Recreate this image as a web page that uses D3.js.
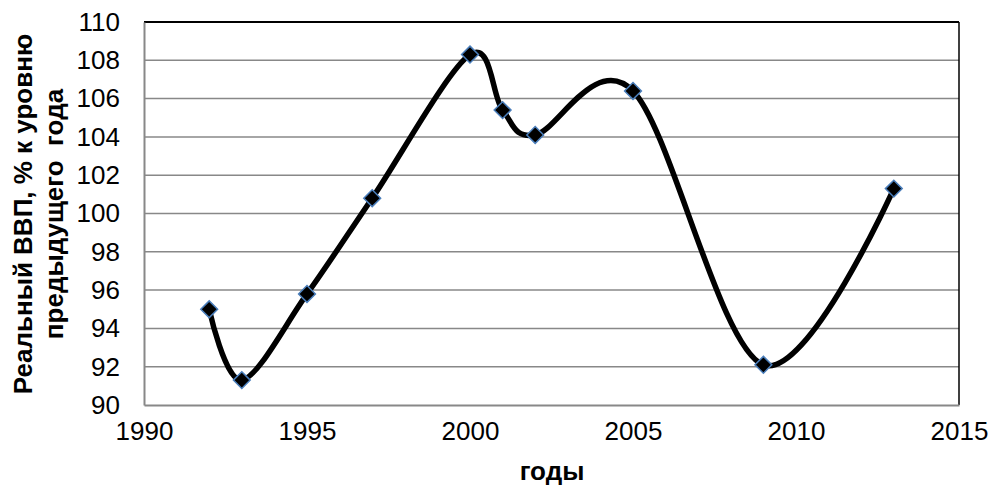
<!DOCTYPE html>
<html>
<head>
<meta charset="utf-8">
<script src="https://cdn.jsdelivr.net/npm/d3@7"></script>
<style>
  body { margin: 0; background: #fff; }
  text { font-family: "Liberation Sans", Arial, sans-serif; }
</style>
</head>
<body>
<script>
// data
var years = [1992, 1993, 1995, 1997, 2000, 2001, 2002, 2005, 2009, 2013];
var gdp = [95.0, 91.3, 95.8, 100.8, 108.3, 105.4, 104.1, 106.4, 92.1, 101.3];
var xTicks = [1990, 1995, 2000, 2005, 2010, 2015];
var yTicks = [90, 92, 94, 96, 98, 100, 102, 104, 106, 108, 110];
var xTitle = "годы";
var yTitle = ["Реальный ВВП, % к уровню", "предыдущего  года"];

var svgWidth = 990, svgHeight = 488;
var margin = {top: 22, right: 31, bottom: 83, left: 144};
var width = svgWidth - margin.left - margin.right;
var height = svgHeight - margin.top - margin.bottom;

var svg = d3.select("body").append("svg")
    .attr("width", svgWidth)
    .attr("height", svgHeight);
var g = svg.append("g")
    .attr("transform", "translate(" + margin.left + "," + margin.top + ")");

var x = d3.scaleLinear().domain([1990, 2015]).range([0, width]);
var y = d3.scaleLinear().domain([90, 110]).range([height, 0]);

var data = years.map(function(d, i) { return {year: d, value: gdp[i]}; });

// gridlines
g.selectAll(".grid")
    .data(yTicks.slice(1, -1))
    .enter().append("line")
    .attr("x1", 0).attr("x2", width)
    .attr("y1", function(d) { return y(d); })
    .attr("y2", function(d) { return y(d); })
    .attr("stroke", "#888").attr("stroke-width", 1.5);

// frame: top/right black, axes gray
g.append("line").attr("x1", 0).attr("x2", width).attr("y1", 0).attr("y2", 0)
    .attr("stroke", "#000").attr("stroke-width", 2);
g.append("line").attr("x1", width).attr("x2", width).attr("y1", 0).attr("y2", height)
    .attr("stroke", "#000").attr("stroke-width", 1.5);

var yAxis = g.append("g")
    .call(d3.axisLeft(y).tickValues(yTicks).tickSize(0).tickPadding(24));
var xAxis = g.append("g")
    .attr("transform", "translate(0," + height + ")")
    .call(d3.axisBottom(x).tickValues(xTicks).tickFormat(d3.format("d")).tickSize(0).tickPadding(17));

[yAxis, xAxis].forEach(function(a) {
    a.attr("font-size", null).attr("font-family", null);
    a.select(".domain").attr("stroke", "#888").attr("stroke-width", 2);
    a.selectAll("text").style("font-size", "26px").attr("fill", "#000");
});

// smoothed line
var line = d3.line()
    .x(function(d) { return x(d.year); })
    .y(function(d) { return y(d.value); })
    .curve(d3.curveCardinal.tension(0));

g.append("path")
    .datum(data)
    .attr("d", line)
    .attr("fill", "none")
    .attr("stroke", "#000")
    .attr("stroke-width", 5.5);

// markers
g.selectAll(".pt")
    .data(data)
    .enter().append("path")
    .attr("class", "pt")
    .attr("transform", function(d) { return "translate(" + x(d.year) + "," + y(d.value) + ")"; })
    .attr("d", d3.symbol().type(d3.symbolDiamond2).size(180))
    .attr("fill", "#000")
    .attr("stroke", "#4a7ebb")
    .attr("stroke-width", 1.5);

// titles
svg.append("text")
    .attr("x", 552)
    .attr("y", 480)
    .attr("text-anchor", "middle")
    .style("font-size", "26px")
    .style("font-weight", "bold")
    .text(xTitle);

var yt = svg.append("text")
    .attr("transform", "translate(32,214) rotate(-90)")
    .attr("text-anchor", "middle")
    .style("font-size", "26px")
    .style("font-weight", "bold");
yTitle.forEach(function(t, i) {
    yt.append("tspan")
        .attr("x", 0)
        .attr("y", i * 31)
        .style("white-space", "pre")
        .text(t);
});
</script>
</body>
</html>
